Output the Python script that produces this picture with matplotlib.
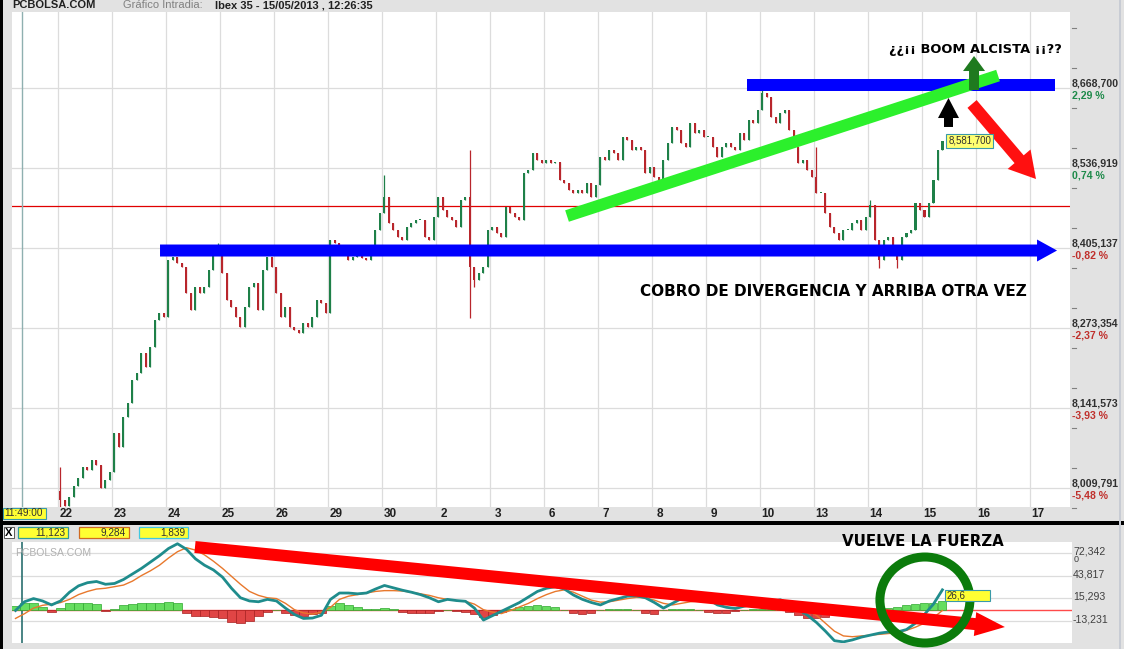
import matplotlib
matplotlib.use("Agg")
import matplotlib.pyplot as plt
import matplotlib.transforms as mtransforms
from matplotlib.patches import FancyArrowPatch, ArrowStyle, Ellipse, Rectangle
from matplotlib.lines import Line2D

W, H, DPI = 1124, 649, 100

# ---------------- data ----------------
day_labels = ["22", "23", "24", "25", "26", "29", "30", "2", "3", "6",
              "7", "8", "9", "10", "13", "14", "15", "16", "17"]

first_open = 8005.0
closes_by_day = [
    [7990.0, 7980.1, 7995.0, 8013.1, 8026.3, 8044.4, 8039.5, 8055.9, 8047.7, 8009.8, 8023.0, 8036.2],
    [8100.4, 8077.3, 8126.8, 8149.8, 8187.7, 8199.2, 8232.2, 8209.1, 8242.1, 8286.5, 8298.1, 8291.5],
    [8385.4, 8390.3, 8380.4, 8373.8, 8331.0, 8303.0, 8340.9, 8331.0, 8340.9, 8368.9, 8396.9, 8401.8],
    [8364.0, 8319.5, 8308.0, 8291.5, 8275.0, 8308.0, 8340.9, 8347.5, 8303.0, 8368.9, 8390.3, 8373.8],
    [8331.0, 8291.5, 8308.0, 8275.0, 8270.1, 8265.1, 8281.6, 8275.0, 8291.5, 8319.5, 8314.5, 8298.1],
    [8418.3, 8413.4, 8401.8, 8396.9, 8385.4, 8390.3, 8393.6, 8388.7, 8385.4, 8410.1, 8434.8, 8462.8],
    [8489.2, 8446.3, 8434.8, 8423.3, 8418.3, 8439.7, 8446.3, 8451.3, 8451.3, 8423.3, 8418.3, 8456.2],
    [8489.2, 8467.7, 8456.2, 8451.3, 8439.7, 8484.2, 8489.2, 8373.8, 8352.4, 8364.0, 8373.8, 8434.8],
    [8439.7, 8429.9, 8423.3, 8472.7, 8462.8, 8456.2, 8451.3, 8528.7, 8533.6, 8561.6, 8550.1, 8545.2],
    [8550.1, 8545.2, 8546.8, 8517.2, 8512.2, 8500.7, 8495.7, 8500.7, 8495.7, 8512.2, 8489.2, 8508.9],
    [8555.0, 8550.1, 8566.6, 8561.6, 8550.1, 8588.0, 8583.0, 8566.6, 8571.5, 8566.6, 8528.7, 8538.6],
    [8522.1, 8517.2, 8550.1, 8578.1, 8604.5, 8599.5, 8578.1, 8571.5, 8611.0, 8594.6, 8599.5, 8588.0],
    [8588.0, 8571.5, 8555.0, 8571.5, 8578.1, 8571.5, 8566.6, 8594.6, 8583.0, 8616.0, 8611.0, 8632.5],
    [8660.5, 8653.9, 8620.9, 8611.0, 8627.5, 8632.5, 8599.5, 8571.5, 8545.2, 8550.1, 8533.6, 8522.1],
    [8495.7, 8495.7, 8462.8, 8439.7, 8429.9, 8418.3, 8434.8, 8434.8, 8446.3, 8451.3, 8434.8, 8456.2],
    [8476.0, 8418.3, 8385.4, 8418.3, 8423.3, 8401.8, 8385.4, 8423.3, 8429.9, 8434.8, 8479.3, 8467.7],
    [8456.2, 8479.3, 8517.2, 8566.6, 8581.7],
]
bars_per_day = 12

wick_bar = [0, 35, 72, 91, 92, 156, 168, 180, 182, 186]
wick_high = [8044.4, 8413.4, 8525.4, 8566.6, 8373.8, 8665.4, 8571.5, 8484.2, 8418.3, 8401.8]
wick_low = [7978.5, 8396.9, 8462.8, 8289.8, 8340.9, 8632.5, 8495.7, 8456.2, 8372.2, 8372.2]

price_levels = [8668.700, 8536.919, 8405.137, 8273.354, 8141.573, 8009.791]
price_labels = ["8,668,700", "8,536,919", "8,405,137", "8,273,354", "8,141,573", "8,009,791"]
pct_labels = ["2,29 %", "0,74 %", "-0,82 %", "-2,37 %", "-3,93 %", "-5,48 %"]
ref_price = 8474.6
last_price_label = "8,581,700"

# MACD indicator (sampled every 1/6 of a day)
ind_start_day = -0.787
ind_step = 1 / 6
macd = [0, 11, 15, 12, 7, 12, 23, 31, 35, 36.5,
        33, 34, 39, 46, 53, 61, 69, 78, 84, 77,
        65, 57, 51, 42, 28, 16, 12, 11, 14, 12,
        3, -5, -10, -9.5, -6, 14, 22, 22, 21, 22,
        27, 31.5, 28.5, 25.5, 23, 20, 16, 11, 14, 12.5,
        11.6, 3, -12, -6.5, -1, 4.5, 10, 17, 24, 28,
        30, 27, 19.5, 14, 10, 7, 12, 15, 18, 18.5,
        16, 10, 3, 9, 15, 16, 17, 14, 7, 4,
        2.5, 5.5, 8, 10, 11, 13.5, 8, 1.5, -6, -15,
        -26, -38, -39.5, -37, -33.5, -31, -28.5, -27, -27, -24,
        -16, -5, 8, 26]
signal = [-10, -4, 3, 6.5, 8, 10, 14, 20, 24, 27,
          28, 30, 32, 37, 44, 50, 57, 66, 74, 79,
          76, 70, 62, 53, 43, 33, 24, 19, 16, 15,
          9, 1, -3, -4.5, -2, 4, 14, 18, 20, 22,
          24, 25, 25, 24.5, 23, 21, 19, 16, 14, 12.5,
          11.6, 8, 1, -2, -3.9, 0, 4.5, 9, 15, 20,
          24, 26, 23, 18, 13, 10.5, 11, 13, 15, 16.5,
          16, 13, 9, 7, 9, 11, 12, 12, 10.5, 9,
          7, 7, 8, 9, 10, 10.7, 10, 6, 0, -6,
          -16, -26, -32, -33, -32, -31, -30, -29, -28, -25,
          -21, -16, -9, 0]
hist = [6, 9, 10, 5, -2, 3, 9, 10, 10, 8,
        -1, 2, 7, 8, 9, 10, 10, 11, 10, -3,
        -7, -7, -8, -10, -14, -16, -13, -7, -2, 1,
        -3, -6, -7, -5, -3, 6, 10, 7, 4, 2,
        2, 3, 2, -2, -3, -3, -3, -1, 0.5, -1,
        -2, -5, -8, -6, -2, 2, 4, 6, 7, 6,
        4, 1, -3, -4, -3, 1, 2, 2, 2, 1,
        -3, -4, 1, 2, 2, 2, 1, -2, -3, -3,
        -1, 1, 1.5, 2, 2, 1, -2, -6, -9, -9,
        -8, -5, 1, 3, 3, 1, 2, 3, 5, 7,
        8, 9, 10, 12]
ind_levels = [72.342, 43.817, 15.293, -13.231]
ind_labels = ["72,342", "43,817", "15,293", "-13,231"]
header_values = ["11,123", "9,284", "1,839"]
last_macd_label = "26,6"
cursor_day = -0.667
cursor_time = "11:49:00"

# ---------------- figure ----------------
fig = plt.figure(figsize=(W / DPI, H / DPI), dpi=DPI)
fig.patch.set_facecolor("#e2e2e2")
UI = "Liberation Sans"
BIG = "DejaVu Sans"


def rect_px(x0, y0, x1, y1):
    return [x0 / W, 1 - y1 / H, (x1 - x0) / W, (y1 - y0) / H]


def frect(x0, y0, x1, y1, fc, ec="none", lw=0, z=1):
    r = Rectangle((x0 / W, 1 - y1 / H), (x1 - x0) / W, (y1 - y0) / H,
                  transform=fig.transFigure, fc=fc, ec=ec, lw=lw, zorder=z)
    fig.add_artist(r)


def ftext(x, y, s, **kw):
    fig.text(x / W, 1 - y / H, s, **kw)


def px_pt(p):
    return p * 72 / DPI


def arrow(ax, a, b, color, tail, hw, hl, z=10):
    st = ArrowStyle.Simple(head_length=px_pt(hl), head_width=px_pt(hw), tail_width=px_pt(tail))
    p = FancyArrowPatch(a, b, arrowstyle=st, mutation_scale=1, fc=color, ec="none", lw=0,
                        shrinkA=0, shrinkB=0, transform=ax.transData, clip_on=False, zorder=z)
    ax.add_patch(p)


# ---------------- main price panel ----------------
ax = fig.add_axes(rect_px(12, 12, 1070, 507))
ax.set_facecolor("white")
ax.set_xlim(-0.852, 18.74)
ax.set_ylim(7978.5, 8793.9)
ax.set_xticks([])
ax.set_yticks([])
for s in ax.spines.values():
    s.set_visible(False)

for k in range(len(day_labels)):
    ax.axvline(k, color="#dcdcdc", lw=0.9, zorder=1)
for lv in price_levels:
    ax.axhline(lv, color="#dcdcdc", lw=0.9, zorder=1)
ax.axhline(ref_price, color="#e00000", lw=0.9, zorder=2)
ax.axvline(cursor_day, color="#8fb0b0", lw=1.0, zorder=2)

xs, opens, closes = [], [], []
prev = first_open
for d, day in enumerate(closes_by_day):
    for j, c in enumerate(day):
        xs.append(d + (j + 0.5) / bars_per_day)
        opens.append(prev)
        closes.append(c)
        prev = c
highs = [max(o, c) for o, c in zip(opens, closes)]
lows = [min(o, c) for o, c in zip(opens, closes)]
for i, hv, lv in zip(wick_bar, wick_high, wick_low):
    highs[i] = max(highs[i], hv)
    lows[i] = min(lows[i], lv)
cols = ["#1e8048" if c >= o else "#b8262c" for o, c in zip(opens, closes)]
ax.vlines(xs, lows, highs, colors=cols, lw=0.9, zorder=3)
bottoms = [min(o, c) for o, c in zip(opens, closes)]
heights = [max(abs(c - o), 1.5) for o, c in zip(opens, closes)]
ax.bar(xs, heights, bottom=bottoms, width=0.045, color=cols, zorder=3, linewidth=0)

# right price axis labels
for lv, lab, pct in zip(price_levels, price_labels, pct_labels):
    ax.annotate(lab, xy=(1.0, lv), xycoords=("axes fraction", "data"), xytext=(px_pt(2), px_pt(5)),
                textcoords="offset points", ha="left", va="center", fontsize=7.6,
                fontweight="bold", color="#303030", family=UI, annotation_clip=False)
    ax.annotate(pct, xy=(1.0, lv), xycoords=("axes fraction", "data"), xytext=(px_pt(2), px_pt(-7)),
                textcoords="offset points", ha="left", va="center", fontsize=7.6,
                fontweight="bold", color="#1e8a4a" if not pct.startswith("-") else "#c0302c",
                family=UI, annotation_clip=False)
tr = mtransforms.blended_transform_factory(ax.transAxes, ax.transData)
spacing = price_levels[0] - price_levels[1]
dash_levels = [price_levels[0] + spacing * 0.75] + \
    [lv + sgn * spacing / 4 for lv in price_levels for sgn in (1, -1)]
for dl in dash_levels:
    ax.add_line(Line2D([1.002, 1.006], [dl, dl], transform=tr, color="#808080", lw=0.8, clip_on=False))

# day labels
for k, lab in enumerate(day_labels):
    ax.annotate(lab, xy=(k + 0.15, 0), xycoords=("data", "axes fraction"), xytext=(0, px_pt(-7)),
                textcoords="offset points", ha="center", va="center", fontsize=8.5,
                fontweight="bold", color="#202020", family=UI, annotation_clip=False)

# last price label
ax.annotate(last_price_label, xy=(xs[-1], closes[-1]), xytext=(px_pt(6), 0), textcoords="offset points",
            ha="left", va="center", fontsize=7, color="#303030", family=UI, zorder=12,
            bbox=dict(boxstyle="square,pad=0.2", fc="#ffff70", ec="#3a9aa8", lw=0.8))

# annotations on the price chart
ax.plot([12.76, 18.46], [8673.6, 8673.6], color="#0000ff", lw=px_pt(12),
        solid_capstyle="butt", zorder=9)
ax.plot([9.426, 17.407], [8457.8, 8689.2], color="#2cf02c", lw=px_pt(12),
        solid_capstyle="butt", zorder=10)
arrow(ax, (1.889, 8401.0), (18.5, 8401.0), "#0000ff", tail=12, hw=22, hl=20, z=9)
arrow(ax, (16.963, 8665.4), (16.963, 8721.4), "#1f7a1f", tail=10, hw=22, hl=15, z=11)
arrow(ax, (16.49, 8604.5), (16.49, 8652.2), "#000000", tail=9, hw=21, hl=20, z=11)
arrow(ax, (16.926, 8642.4), (18.11, 8518.8), "#ff1010", tail=12, hw=30, hl=26, z=11)

ftext(975, 50, "¿¿¡¡ BOOM ALCISTA ¡¡??", ha="center", va="center", fontsize=9.4,
      fontweight="bold", family=BIG, color="black", zorder=20)
ftext(833, 291, "COBRO DE DIVERGENCIA Y ARRIBA OTRA VEZ", ha="center", va="center",
      fontsize=11, fontweight="bold", family=BIG, color="black", zorder=20)

# ---------------- indicator panel ----------------
ax2 = fig.add_axes(rect_px(12, 542, 1072, 643))
ax2.set_facecolor("white")
ax2.set_xlim(-0.852, 18.78)
ax2.set_ylim(-40.9, 86.2)
ax2.set_xticks([])
ax2.set_yticks([])
for s in ax2.spines.values():
    s.set_visible(False)
for lv in ind_levels:
    ax2.axhline(lv, color="#dcdcdc", lw=0.9, zorder=1)
ax2.axhline(0, color="#ff4a4a", lw=1.0, zorder=2)
ax2.axvline(cursor_day, color="#2a7070", lw=1.2, zorder=2)

ix = [ind_start_day + i * ind_step for i in range(len(macd))]
hcols = ["#66dd60" if v >= 0 else "#e04545" for v in hist]
hedge = ["#2fa82f" if v >= 0 else "#a82020" for v in hist]
ax2.bar(ix, hist, width=0.15, color=hcols, edgecolor=hedge, linewidth=0.5, zorder=3)
ax2.plot(ix, signal, color="#e8782c", lw=1.0, zorder=4)
ax2.plot(ix, macd, color="#1f8c8c", lw=2.0, zorder=5)

ax2.text(0.003, 0.89, "PCBOLSA.COM", transform=ax2.transAxes, fontsize=7.5, color="#b0b0b0",
         family=UI, ha="left", va="center", zorder=6)

for lv, lab in zip(ind_levels, ind_labels):
    ax2.annotate(lab, xy=(1.0, lv), xycoords=("axes fraction", "data"), xytext=(px_pt(1), px_pt(1.5)),
                 textcoords="offset points", ha="left", va="center", fontsize=7.6,
                 color="#404040", family=UI, annotation_clip=False)
ftext(1074, 559, "0", ha="left", va="center", fontsize=6.5, color="#404040", family=UI)

arrow(ax2, (2.537, 79.9), (17.537, -20.8), "#ff0000", tail=12, hw=24, hl=30, z=8)
ax2.add_patch(Ellipse((16.056, 13.2), 1.667, 108.2, fill=False, ec="#0b7b0b",
                      lw=px_pt(9), zorder=9, clip_on=False))

# last macd box
frect(945, 590, 990, 601, fc="#ffff33", ec="#3a9aa8", lw=0.8, z=12)
ftext(947, 595.5, last_macd_label, ha="left", va="center", fontsize=7, color="#303030",
      family=UI, zorder=13)

ftext(923, 541, "VUELVE LA FUERZA", ha="center", va="center", fontsize=10.8,
      fontweight="bold", family=BIG, color="black", zorder=20)

# ---------------- chrome ----------------
frect(0, 0, 3, H, fc="black", z=5)
frect(0, 521, W, 525, fc="black", z=5)
frect(1119, 0, 1121, H, fc="#c8ccd4", z=5)

ftext(12, 5.5, "PCBOLSA.COM", ha="left", va="center", fontsize=8, fontweight="bold",
      family=UI, color="#202020")
ftext(123, 5.5, "Gráfico Intradia:", ha="left", va="center", fontsize=8,
      family=UI, color="#808080")
ftext(215, 5.5, "Ibex 35 - 15/05/2013 , 12:26:35", ha="left", va="center", fontsize=8,
      fontweight="bold", family=UI, color="#202020")

# cursor time box
frect(3, 508, 46, 519, fc="#ffff33", ec="#3a9aa8", lw=0.8, z=6)
ftext(4.5, 513.5, cursor_time, ha="left", va="center", fontsize=7.2, family=UI,
      color="#303030", zorder=7)

# indicator header
frect(4, 527, 14, 538, fc="white", ec="#404040", lw=0.6, z=6)
ftext(9, 532.5, "X", ha="center", va="center", fontsize=8, fontweight="bold", family=UI,
      color="black", zorder=7)
box_x = [(18, 68), (79, 129), (139, 188)]
box_ec = ["#2f9a9a", "#d06a20", "#40c8e0"]
for (x0, x1), ec, val in zip(box_x, box_ec, header_values):
    frect(x0, 527, x1, 538, fc="#ffff33", ec=ec, lw=0.9, z=6)
    ftext(x1 - 3, 532.5, val, ha="right", va="center", fontsize=7.2, family=UI,
          color="#303030", zorder=7)

fig.savefig("out.png", dpi=DPI, facecolor=fig.get_facecolor())
